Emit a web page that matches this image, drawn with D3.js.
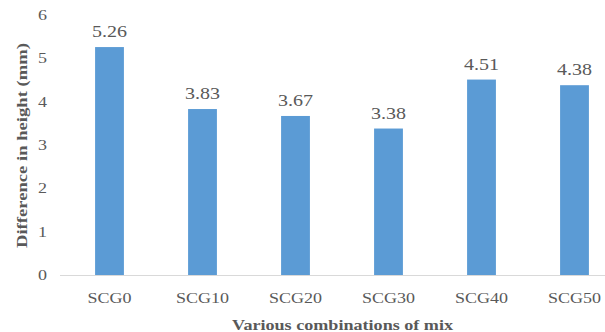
<!DOCTYPE html>
<html>
<head>
<meta charset="utf-8">
<script src="https://cdn.jsdelivr.net/npm/d3@7"></script>
<style>
  html, body { margin: 0; padding: 0; background: #fff; }
  svg { display: block; }
  text { font-family: "Liberation Serif", "Times New Roman", serif; fill: #595959; }
</style>
</head>
<body>
<svg id="chart" width="605" height="332"></svg>
<script>
// Height difference per mix
const categories = ["SCG0", "SCG10", "SCG20", "SCG30", "SCG40", "SCG50"];
const values = [5.26, 3.83, 3.67, 3.38, 4.51, 4.38];
const yTicks = [0, 1, 2, 3, 4, 5, 6];
const xTitle = "Various combinations of mix";
const yTitle = "Difference in height (mm)";

const svg = d3.select("#chart");

const x = d3.scaleBand()
  .domain(categories)
  .range([63, 621])
  .paddingInner(0.69)
  .paddingOuter(0.345);

const y = d3.scaleLinear().domain([0, 6]).range([275, 15]);

// baseline
svg.append("line")
  .attr("x1", 60).attr("x2", 605)
  .attr("y1", y(0) + 0.5).attr("y2", y(0) + 0.5)
  .attr("stroke", "#d9d9d9").attr("stroke-width", 1);

// bars
svg.append("g").selectAll("rect")
  .data(values)
  .join("rect")
  .attr("x", (d, i) => x(categories[i]))
  .attr("width", x.bandwidth())
  .attr("y", d => y(d))
  .attr("height", d => y(0) - y(d))
  .attr("fill", "#5b9bd5");

// value labels
svg.append("g").selectAll("text")
  .data(values)
  .join("text")
  .attr("transform", (d, i) => `translate(${x(categories[i]) + x.bandwidth() / 2},${y(d) - 10}) scale(1.25,1)`)
  .attr("text-anchor", "middle")
  .attr("font-size", 16)
  .attr("fill", "#4d4d4d")
  .text(d => d.toFixed(2));

// y tick labels
svg.append("g").selectAll("text")
  .data(yTicks)
  .join("text")
  .attr("transform", d => `translate(47,${y(d) + 5}) scale(1.2,1)`)
  .attr("text-anchor", "end")
  .attr("font-size", 15)
  .text(d => d);

// x tick labels
svg.append("g").selectAll("text")
  .data(categories)
  .join("text")
  .attr("transform", d => `translate(${x(d) + x.bandwidth() / 2},303) scale(1.2,1)`)
  .attr("text-anchor", "middle")
  .attr("font-size", 15)
  .text(d => d);

// axis titles
svg.append("text")
  .attr("x", 342.5).attr("y", 330)
  .attr("text-anchor", "middle")
  .attr("font-size", 15)
  .attr("font-weight", "bold")
  .attr("textLength", 221)
  .attr("lengthAdjust", "spacingAndGlyphs")
  .text(xTitle);

svg.append("text")
  .attr("transform", "translate(27,145.5) rotate(-90)")
  .attr("text-anchor", "middle")
  .attr("font-size", 15)
  .attr("font-weight", "bold")
  .attr("textLength", 205)
  .attr("lengthAdjust", "spacingAndGlyphs")
  .text(yTitle);
</script>
</body>
</html>
